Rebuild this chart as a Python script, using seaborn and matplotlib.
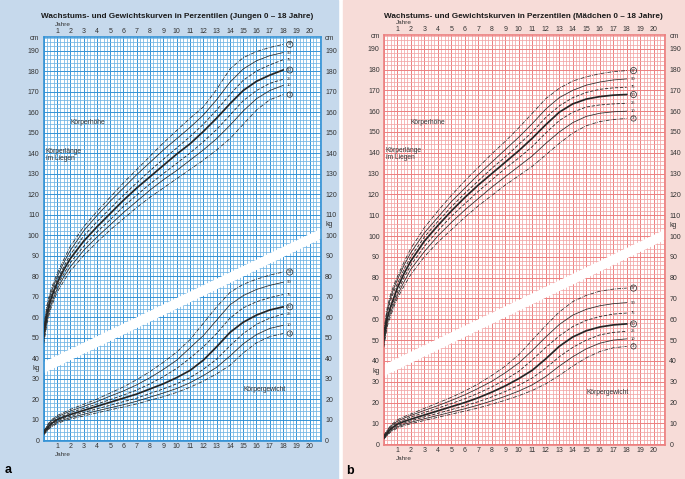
import matplotlib
matplotlib.use("Agg")
import matplotlib.pyplot as plt
import seaborn as sns
from matplotlib.patches import Rectangle
from matplotlib.ticker import MultipleLocator, FixedLocator

plt.rcParams['font.family'] = ['Liberation Sans', 'DejaVu Sans']

# ages (years) at which the curves are read
ages_height = [0, 0.25, 0.5, 0.75, 1, 1.5, 2, 3, 4, 5, 6, 7, 8, 9, 10, 11, 12, 13, 14, 15, 16, 17, 18]
ages_weight = [0, 0.5, 1, 1.5, 2, 3, 4, 5, 6, 7, 8, 9, 10, 11, 12, 13, 14, 15, 16, 17, 18]
percentiles = [97, 90, 75, 50, 25, 10, 3]

# boys, height (cm)
boys_h_p97 = [55.5, 66, 72.5, 77, 81, 88, 94.5, 104, 111.5, 118.5, 125.5, 132, 138.5, 145, 151, 157, 162.5, 171, 181, 186.5, 189.5, 191.5, 193]
boys_h_p90 = [54.5, 64.5, 71, 75.5, 79.5, 86.5, 92.5, 102, 109.5, 116.5, 123, 129.5, 135.5, 141.5, 147, 152.5, 158.5, 166, 174.5, 181, 185, 187.5, 189]
boys_h_p75 = [53, 63, 69.5, 74, 78, 84.5, 90.5, 99.5, 106.5, 113, 119.5, 125.5, 131.5, 137, 142.5, 148, 154, 161, 168.5, 175.5, 180, 183, 185.5]
boys_h_p50 = [51.5, 61.5, 68, 72.5, 76.5, 83, 88.5, 97, 104, 110.5, 117, 123, 128.5, 134, 139.5, 144.5, 150.5, 157, 164, 170.5, 175, 178, 180.5]
boys_h_p25 = [50, 60, 66.5, 71, 75, 81, 86.5, 94.5, 101.5, 107.5, 114, 119.5, 125, 130, 135, 140, 145.5, 151.5, 158.5, 165.5, 170.5, 174, 176]
boys_h_p10 = [48.5, 58.5, 65, 69.5, 73.5, 79.5, 84.5, 92.5, 99, 105, 111, 116.5, 122, 127, 131.5, 136.5, 141.5, 147, 153.5, 160.5, 166.5, 170.5, 173]
boys_h_p3 = [47, 57, 63.5, 68, 72, 77.5, 82.5, 90, 96.5, 102.5, 108, 113.5, 118.5, 123, 127.5, 132, 136.5, 141.5, 147, 154, 161, 166, 168.5]

# boys, weight (kg)
boys_w_p97 = [4.5, 9.5, 12, 13.5, 15, 17.5, 20, 23, 26, 29.5, 33.5, 38, 43, 49, 57, 65, 72, 76, 78.5, 80.5, 82]
boys_w_p90 = [4.2, 9, 11.3, 12.8, 14.2, 16.5, 18.8, 21.5, 24, 27, 30.5, 34.5, 39, 45, 51, 58.5, 66, 70.5, 73.5, 75.5, 77]
boys_w_p75 = [3.9, 8.3, 10.6, 12, 13.4, 15.5, 17.6, 19.8, 22, 24.5, 27.5, 31, 35, 40, 45.5, 52, 59.5, 64.5, 67.5, 69.5, 71]
boys_w_p50 = [3.5, 7.7, 10, 11.3, 12.5, 14.5, 16.5, 18.5, 20.5, 22.5, 25, 27.5, 30.5, 34, 39, 45.5, 52.5, 57.5, 61, 63.5, 65]
boys_w_p25 = [3.2, 7.2, 9.3, 10.6, 11.7, 13.5, 15.3, 17, 18.8, 20.5, 22.8, 25, 27.5, 30.5, 34.5, 39.5, 46, 52, 56.5, 59.5, 61.5]
boys_w_p10 = [2.9, 6.6, 8.7, 9.9, 11, 12.6, 14.3, 15.8, 17.3, 19, 21, 23, 25.2, 28, 31.5, 35.5, 41, 47, 51.5, 54.5, 56]
boys_w_p3 = [2.6, 6.1, 8.1, 9.3, 10.3, 11.8, 13.3, 14.8, 16.2, 17.7, 19.5, 21.2, 23.3, 25.8, 28.8, 32.3, 36.5, 42.5, 47.5, 50.5, 52]

# girls, height (cm)
girls_h_p97 = [54.5, 65.5, 72, 76.5, 80.5, 87.5, 94, 104, 112, 119.5, 126.5, 133, 139.5, 145.5, 152, 159, 166, 171, 174.5, 176.5, 178, 179, 179.5]
girls_h_p90 = [53.5, 64, 70.5, 75, 79, 86, 92, 101.5, 109, 116.5, 123, 129.5, 135.5, 141.5, 147.5, 154, 161, 166.5, 170, 172.5, 174, 175, 175.5]
girls_h_p75 = [52.5, 63, 69, 73.5, 77, 84, 90, 99.5, 107, 114, 120.5, 126.5, 132.5, 138, 144, 150, 157, 162.5, 166.5, 169, 170.5, 171.2, 171.5]
girls_h_p50 = [51, 60.5, 66, 70.5, 75, 82, 88, 97.5, 105, 112, 118.5, 124.5, 130, 135.5, 141, 147, 153.5, 159.5, 163.5, 165.8, 167, 167.7, 168]
girls_h_p25 = [49.5, 59.5, 64.5, 69, 73, 80, 86, 95, 102.5, 109.5, 115.5, 121.5, 127, 132.5, 137.5, 143, 149.5, 155.5, 159.5, 162, 163, 163.5, 163.8]
girls_h_p10 = [48, 58, 63, 67.5, 71.5, 78, 84, 92.5, 100, 106.5, 112.5, 118, 123.5, 128.5, 133.5, 138.5, 144.5, 150, 154.5, 157.5, 159, 159.7, 160]
girls_h_p3 = [46.5, 56.5, 61.5, 66, 70, 76, 81.5, 90, 97, 103, 109, 114.5, 119.5, 124.5, 129, 133.5, 139, 144.5, 149.5, 153, 155, 156, 156.5]

# girls, weight (kg)
girls_w_p97 = [4.3, 9, 11.7, 13.2, 14.5, 17.2, 19.8, 22.5, 25.5, 29, 33, 37.5, 43, 50, 57, 63.5, 68.5, 71.5, 73.5, 74.5, 75]
girls_w_p90 = [4, 8.5, 11, 12.5, 13.8, 16.2, 18.5, 21, 23.7, 26.8, 30.2, 34.3, 39, 45, 51.5, 57.5, 62, 64.8, 66.5, 67.5, 68]
girls_w_p75 = [3.7, 7.9, 10.3, 11.7, 13, 15.2, 17.3, 19.5, 21.8, 24.5, 27.5, 31, 35, 40.5, 46.5, 52, 56.5, 59.5, 61.3, 62.5, 63]
girls_w_p50 = [3.3, 7.3, 9.6, 10.9, 12, 14, 16, 18, 20, 22.3, 25, 28, 31.5, 35.5, 41, 47, 51.5, 54.5, 56.3, 57.3, 57.8]
girls_w_p25 = [3.0, 6.8, 8.9, 10.1, 11.2, 13.1, 14.8, 16.6, 18.4, 20.4, 22.7, 25.3, 28.3, 31.8, 36.5, 42, 46.5, 50, 52.5, 53.7, 54.2]
girls_w_p10 = [2.7, 6.3, 8.3, 9.5, 10.5, 12.2, 13.8, 15.4, 17, 18.8, 20.8, 23, 25.5, 28.5, 32.5, 37.5, 42, 45.8, 48.5, 50, 50.6]
girls_w_p3 = [2.4, 5.8, 7.7, 8.9, 9.8, 11.4, 12.9, 14.4, 15.9, 17.4, 19.2, 21.1, 23.3, 25.8, 29, 33, 37.5, 41.5, 44.5, 46.3, 47]

# white diagonal band separating the cm and kg scales
band_x = [0, 21]
band_low = [33, 99]
band_high = [38.5, 104]

line_w = {97: 0.55, 90: 0.55, 75: 0.6, 50: 1.25, 25: 0.6, 10: 0.55, 3: 0.55}
line_s = {97: (0, (5, 1.5, 1, 1.5)), 90: '-', 75: (0, (4, 2)), 50: '-',
          25: (0, (4, 2)), 10: '-', 3: (0, (5, 1.5, 1, 1.5))}
INK = '#262626'
TXT = '#333333'


def setup_panel(ax, major_c, minor_c):
    ax.set_xlim(0, 20.85)
    ax.set_ylim(-0.4, 196.6)
    ax.xaxis.set_major_locator(FixedLocator(range(0, 21)))
    ax.set_xticklabels([''] + [str(i) for i in range(1, 21)])
    ax.xaxis.set_minor_locator(MultipleLocator(0.25))
    ax.yaxis.set_major_locator(FixedLocator(range(0, 200, 10)))
    ax.set_yticklabels([str(v) for v in range(0, 200, 10)])
    ax.yaxis.set_minor_locator(MultipleLocator(2))
    ax.set_facecolor('white')
    ax.grid(which='minor', color=minor_c, lw=0.55)
    ax.grid(which='major', color=major_c, lw=0.7)
    ax.set_axisbelow(True)
    ax.tick_params(which='both', length=0, labelsize=5, labelcolor=TXT)
    ax.tick_params(axis='x', top=True, labeltop=True, pad=1.5)
    ax.tick_params(axis='y', right=True, labelright=True, pad=3)
    for sp in ax.spines.values():
        sp.set_color(major_c)
        sp.set_linewidth(1.2)
    ax.set_xlabel('')
    ax.set_ylabel('')

    ax.fill_between(band_x, band_low, band_high, color='white', lw=0, zorder=1)

    # unit labels at the axes
    for side, ha, dx in ((0, 'right', -3), (1, 'left', 3)):
        ax.annotate('cm', xy=(side, 196), xycoords=('axes fraction', 'data'),
                    xytext=(dx, 0), textcoords='offset points', ha=ha, va='center',
                    fontsize=5, color=TXT, annotation_clip=False)
    ax.annotate('kg', xy=(0, 35), xycoords=('axes fraction', 'data'), xytext=(-3, 0),
                textcoords='offset points', ha='right', va='center', fontsize=5, color=TXT)
    ax.annotate('kg', xy=(1, 105), xycoords=('axes fraction', 'data'), xytext=(3, 0),
                textcoords='offset points', ha='left', va='center', fontsize=5, color=TXT)
    ax.annotate('Jahre', xy=(1.45, 1), xycoords=('data', 'axes fraction'), xytext=(0, 9),
                textcoords='offset points', ha='center', va='center', fontsize=4.6, color=TXT)
    ax.annotate('Jahre', xy=(1.45, 0), xycoords=('data', 'axes fraction'), xytext=(0, -9.5),
                textcoords='offset points', ha='center', va='center', fontsize=4.6, color=TXT)

    ax.text(2.0, 154.7, 'Körperhöhe', fontsize=4.8, color=TXT, va='center')
    ax.text(0.15, 139.3, 'Körperlänge\nim Liegen', fontsize=4.8, color=TXT, va='center',
            linespacing=1.0)
    ax.text(15.0, 24.8, 'Körpergewicht', fontsize=4.8, color=TXT, va='center')


def draw_curves(ax, ages, curves):
    for p, vals in zip(percentiles, curves):
        sns.lineplot(x=ages, y=vals, ax=ax, color=INK, linewidth=line_w[p],
                     linestyle=line_s[p], zorder=3)
        if p in (97, 50, 3):
            ax.text(18.5, vals[-1], str(p), fontsize=3.2, ha='center', va='center', color=INK,
                    bbox=dict(boxstyle='circle,pad=0.15', fc='none', ec=INK, lw=0.5), zorder=4)
        else:
            ax.text(18.45, vals[-1], str(p), fontsize=3.0, ha='center', va='center',
                    color=INK, zorder=4)
    ax.set_xlabel('')
    ax.set_ylabel('')


fig = plt.figure(figsize=(6.85, 4.79), dpi=100)
fig.patches.append(Rectangle((0, 0), 338 / 685, 1, transform=fig.transFigure,
                             color='#c6d9ec', zorder=-10))
fig.patches.append(Rectangle((343 / 685, 0), 342 / 685, 1, transform=fig.transFigure,
                             color='#f7dcd8', zorder=-10))

ax_boys = fig.add_axes([43.7 / 685, 38 / 479, 277.3 / 685, 404 / 479])
ax_girls = fig.add_axes([383.8 / 685, 34 / 479, 281.4 / 685, 410 / 479])

setup_panel(ax_boys, '#3593d6', '#6fb4e4')
setup_panel(ax_girls, '#ec8080', '#f2a6a6')

draw_curves(ax_boys, ages_height,
            [boys_h_p97, boys_h_p90, boys_h_p75, boys_h_p50, boys_h_p25, boys_h_p10, boys_h_p3])
draw_curves(ax_boys, ages_weight,
            [boys_w_p97, boys_w_p90, boys_w_p75, boys_w_p50, boys_w_p25, boys_w_p10, boys_w_p3])
draw_curves(ax_girls, ages_height,
            [girls_h_p97, girls_h_p90, girls_h_p75, girls_h_p50, girls_h_p25, girls_h_p10, girls_h_p3])
draw_curves(ax_girls, ages_weight,
            [girls_w_p97, girls_w_p90, girls_w_p75, girls_w_p50, girls_w_p25, girls_w_p10, girls_w_p3])

fig.text(177.5 / 685, 1 - 16 / 479, 'Wachstums- und Gewichtskurven in Perzentilen (Jungen 0 – 18 Jahre)',
         ha='center', va='center', fontsize=5.9, fontweight='bold', color='#1a1a1a')
fig.text(523 / 685, 1 - 16 / 479, 'Wachstums- und Gewichtskurven in Perzentilen (Mädchen 0 – 18 Jahre)',
         ha='center', va='center', fontsize=5.9, fontweight='bold', color='#1a1a1a')
fig.text(5 / 685, 1 - 470 / 479, 'a', ha='left', va='center', fontsize=9, fontweight='bold')
fig.text(346 / 685, 1 - 471 / 479, 'b', ha='left', va='center', fontsize=9, fontweight='bold')

fig.savefig('out.png', dpi=100)
